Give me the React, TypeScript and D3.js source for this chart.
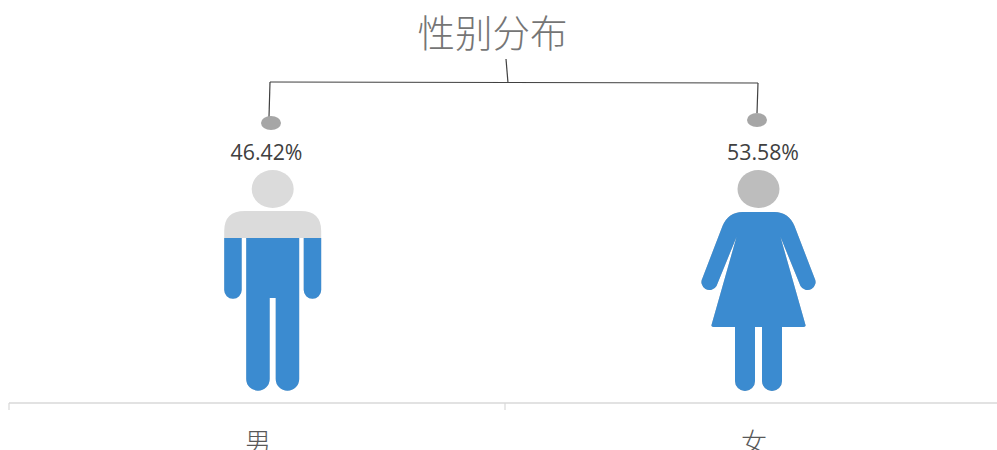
import { useEffect, useRef } from 'react'
import * as d3 from 'd3'

const title = '性别分布'
const categories = ['男', '女']
const shares = [46.42, 53.58]

const W = 997
const H = 450
const BLUE = '#3b8bd0'
const CJK = '"Noto Sans CJK SC", sans-serif'

// silhouettes, local coords: x from figure centre, y from top of head
const MAN = 'M-28,41H28Q48.5,41 48.5,61V120A8.75,8.75 0 0 1 31,120V68H26.5V209A11.75,11.75 0 0 1 3,209V128H-3V209A11.75,11.75 0 0 1 -26.5,209V68H-31V120A8.75,8.75 0 0 1 -48.5,120V61Q-48.5,41 -28,41Z'
const WOMAN = 'M-16,42H16Q30,42 36,56L56,108A7.8,7.8 0 0 1 42,116L22,67L47,155Q47.5,157 45,157H23.5V211A10,10 0 0 1 3.5,211V157H-3.5V211A10,10 0 0 1 -23.5,211V157H-45Q-47.5,157 -47,155L-22,67L-42,116A7.8,7.8 0 0 1 -56,108L-36,56Q-30,42 -16,42Z'

const figures = [
  { path: MAN, base: '#dbdbdb', dx: 15.7, head: [21, 19], dotDx: 14, dotY: 123, labelDx: 9.5, stem: 117 },
  { path: WOMAN, base: '#bdbdbd', dx: 5.5, head: [21, 19], dotDx: 4, dotY: 120, labelDx: 10, stem: 113 },
]

export default function App() {
  const svgRef = useRef<SVGSVGElement>(null)

  useEffect(() => {
    if (!svgRef.current) return
    const svg = d3.select(svgRef.current)
    svg.selectAll('*').remove()

    const x = d3.scaleBand<string>().domain(categories).range([9, 1001])
    // value axis is hidden, fit from the two fill levels
    const y = d3.scaleLinear().domain([0, 60]).range([406.6, 188.8])
    const figTop = 170
    const bw = x.bandwidth()

    svg.append('rect').attr('width', W).attr('height', H).attr('fill', '#fff')

    // title
    svg.append('text')
      .attr('x', 492.5)
      .attr('y', 47)
      .attr('text-anchor', 'middle')
      .attr('font-family', CJK)
      .attr('font-size', 37.5)
      .attr('font-weight', 300)
      .attr('fill', '#757575')
      .text(title)

    // bracket from title to the two points
    const line = d3.line()
    const leftX = x(categories[0])! + bw / 2 + figures[0].dotDx
    const rightX = x(categories[1])! + bw / 2 + figures[1].dotDx
    const bracket = svg.append('g').attr('fill', 'none').attr('stroke', '#404040').attr('stroke-width', 1.2)
    bracket.append('path').attr('d', line([[leftX - 1, 82], [rightX + 1, 83]]))
    bracket.append('path').attr('d', line([[506, 59], [508, 83]]))
    bracket.append('path').attr('d', line([[leftX - 1, 82], [leftX - 2, figures[0].stem]]))
    bracket.append('path').attr('d', line([[rightX + 1, 83], [rightX, figures[1].stem]]))

    categories.forEach((cat, i) => {
      const fig = figures[i]
      const cx = x(cat)! + bw / 2
      const figX = cx + fig.dx

      svg.append('ellipse')
        .attr('cx', cx + fig.dotDx)
        .attr('cy', fig.dotY)
        .attr('rx', 10)
        .attr('ry', 7)
        .attr('fill', '#a6a6a6')

      svg.append('text')
        .attr('x', cx + fig.labelDx)
        .attr('y', 160)
        .attr('text-anchor', 'middle')
        .attr('font-family', '"Open Sans", sans-serif')
        .attr('font-size', 21.3)
        .attr('fill', '#404040')
        .text(d3.format('.2f')(shares[i]) + '%')

      const clipId = `fill-${i}`
      svg.append('clipPath').attr('id', clipId)
        .append('rect')
        .attr('x', figX - 70)
        .attr('width', 140)
        .attr('y', y(shares[i]))
        .attr('height', y(0) - y(shares[i]))

      const drawFigure = (parent: d3.Selection<SVGGElement, unknown, null, undefined>) => {
        parent.append('ellipse')
          .attr('cy', fig.head[1])
          .attr('rx', fig.head[0])
          .attr('ry', fig.head[1])
        parent.append('path').attr('d', fig.path)
      }

      const base = svg.append('g')
        .attr('transform', `translate(${figX},${figTop})`)
        .attr('fill', fig.base) as d3.Selection<SVGGElement, unknown, null, undefined>
      drawFigure(base)

      const filled = svg.append('g').attr('clip-path', `url(#${clipId})`)
        .append('g')
        .attr('transform', `translate(${figX},${figTop})`)
        .attr('fill', BLUE) as d3.Selection<SVGGElement, unknown, null, undefined>
      drawFigure(filled)
    })

    // category axis, ticks on the band edges
    const axis = svg.append('g')
    axis.append('path')
      .attr('d', line([[x.range()[0], 403], [x.range()[1], 403]]))
      .attr('stroke', '#d9d9d9')
      .attr('stroke-width', 1.5)
    categories.forEach(cat => {
      axis.append('path')
        .attr('d', line([[x(cat)!, 403], [x(cat)!, 410]]))
        .attr('stroke', '#d9d9d9')
        .attr('stroke-width', 1.2)
      // the reference cuts these off at the bottom edge too
      axis.append('text')
        .attr('x', x(cat)! + bw / 2 + 1)
        .attr('y', 452)
        .attr('text-anchor', 'middle')
        .attr('font-family', CJK)
        .attr('font-size', 26)
        .attr('font-weight', 300)
        .attr('fill', '#595959')
        .text(cat)
    })
  }, [])

  return <svg ref={svgRef} width={W} height={H} style={{ display: 'block', position: 'absolute', left: 0, top: 0 }} />
}
